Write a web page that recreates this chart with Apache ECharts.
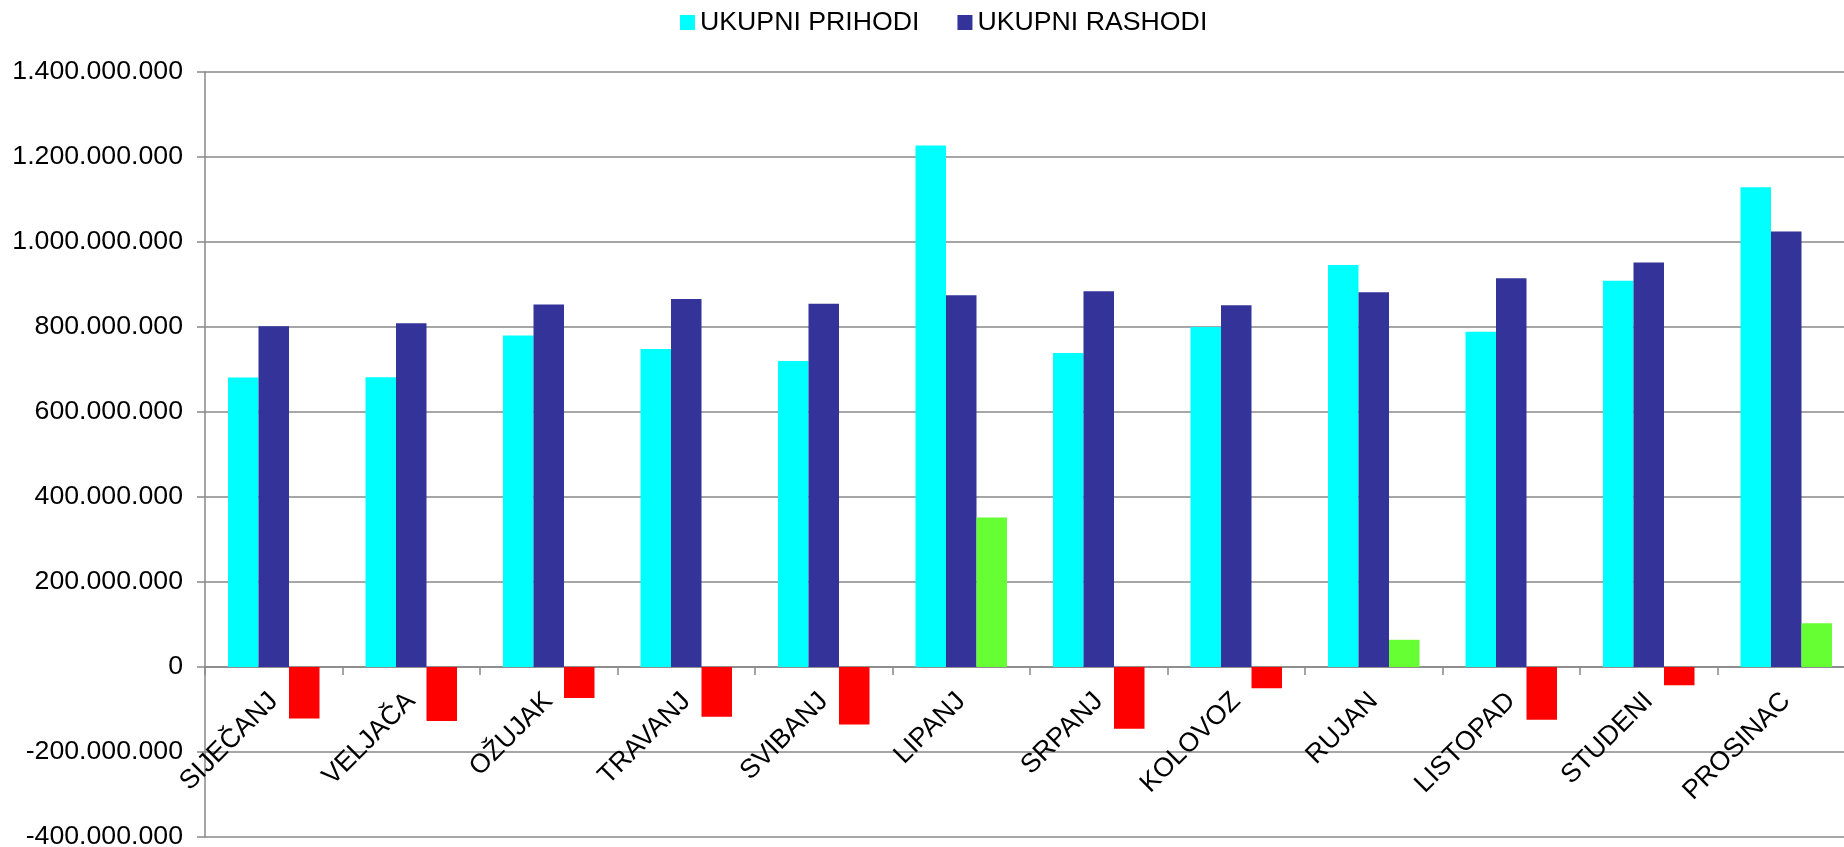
<!DOCTYPE html>
<html>
<head>
<meta charset="utf-8">
<title>Ukupni prihodi i rashodi</title>
<script src="https://cdn.jsdelivr.net/npm/echarts@6/dist/echarts.min.js"></script>
<style>
  html, body { margin: 0; padding: 0; background: #fff; }
  #myChart { width: 1844px; height: 847px; }
</style>
</head>
<body>
<div id="myChart"></div>
<script>
// mjeseci
const months = ['SIJEČANJ', 'VELJAČA', 'OŽUJAK', 'TRAVANJ', 'SVIBANJ', 'LIPANJ',
  'SRPANJ', 'KOLOVOZ', 'RUJAN', 'LISTOPAD', 'STUDENI', 'PROSINAC'];

// ukupni prihodi (procjena sa slike)
const prihodi = [681e6, 682e6, 780e6, 748e6, 720e6, 1227e6,
  739e6, 800e6, 946e6, 789e6, 909e6, 1129e6];

// ukupni rashodi
const rashodi = [802e6, 809e6, 853e6, 866e6, 855e6, 875e6,
  884e6, 851e6, 882e6, 915e6, 952e6, 1025e6];

// razlika (višak / manjak)
const razlika = [-121e6, -127e6, -73e6, -117e6, -135e6, 352e6,
  -145e6, -50e6, 64e6, -124e6, -43e6, 103e6];

const yTicks = { min: -400e6, max: 1400e6, step: 200e6 };

// 1234567 -> 1.234.567
function fmt(v) {
  return String(v).replace(/\B(?=(\d{3})+(?!\d))/g, '.');
}

let myChart = echarts.init(document.getElementById('myChart'));

const font = "'Liberation Sans', Arial, sans-serif";
const fs = 26.7;
const grey = '#888888';

const gridTop = 72;
const gridHeight = 765;
// x os ide na nulu: pomak od dna grida do nule
const zeroOffset = gridHeight * (0 - yTicks.min) / (yTicks.max - yTicks.min);

let option = {
  animation: false,
  textStyle: { fontFamily: font },
  legend: {
    data: ['UKUPNI PRIHODI', 'UKUPNI RASHODI'],
    left: 675,
    top: 4,
    itemWidth: 15,
    itemHeight: 15,
    itemGap: 38,
    icon: 'rect',
    textStyle: { fontSize: fs, color: '#000', fontFamily: font }
  },
  grid: {
    left: 205,
    top: gridTop,
    width: 1650,
    height: gridHeight,
    outerBoundsMode: 'none',
    containLabel: false
  },
  xAxis: {
    type: 'category',
    data: months,
    offset: -zeroOffset,
    axisLine: { onZero: false, lineStyle: { color: grey, width: 1.5 } },
    axisTick: { show: true, length: 8, lineStyle: { color: grey, width: 1.5 } },
    axisLabel: {
      interval: 0,
      rotate: 45,
      margin: 30,
      fontSize: fs,
      color: '#000',
      fontFamily: font
    },
    splitLine: { show: false }
  },
  yAxis: {
    type: 'value',
    min: yTicks.min,
    max: yTicks.max,
    interval: yTicks.step,
    axisLine: { show: true, lineStyle: { color: grey, width: 1.5 } },
    axisTick: { show: true, length: 8, lineStyle: { color: grey, width: 1.5 } },
    axisLabel: {
      margin: 22,
      fontSize: fs,
      color: '#000',
      fontFamily: font,
      formatter: fmt
    },
    splitLine: { show: true, lineStyle: { color: grey, width: 1.5 } }
  },
  series: [
    {
      name: 'UKUPNI PRIHODI',
      type: 'bar',
      data: prihodi,
      barWidth: 30.5,
      barGap: '0%',
      itemStyle: { color: '#00FFFF' }
    },
    {
      name: 'UKUPNI RASHODI',
      type: 'bar',
      data: rashodi,
      barWidth: 30.5,
      barGap: '0%',
      itemStyle: { color: '#333399' }
    },
    {
      name: 'RAZLIKA',
      type: 'bar',
      data: razlika,
      barWidth: 30.5,
      barGap: '0%',
      itemStyle: {
        // crveno manjak, zeleno višak
        color: p => (p.value < 0 ? '#FF0000' : '#66FF33')
      }
    }
  ]
};

myChart.setOption(option);
</script>
</body>
</html>
